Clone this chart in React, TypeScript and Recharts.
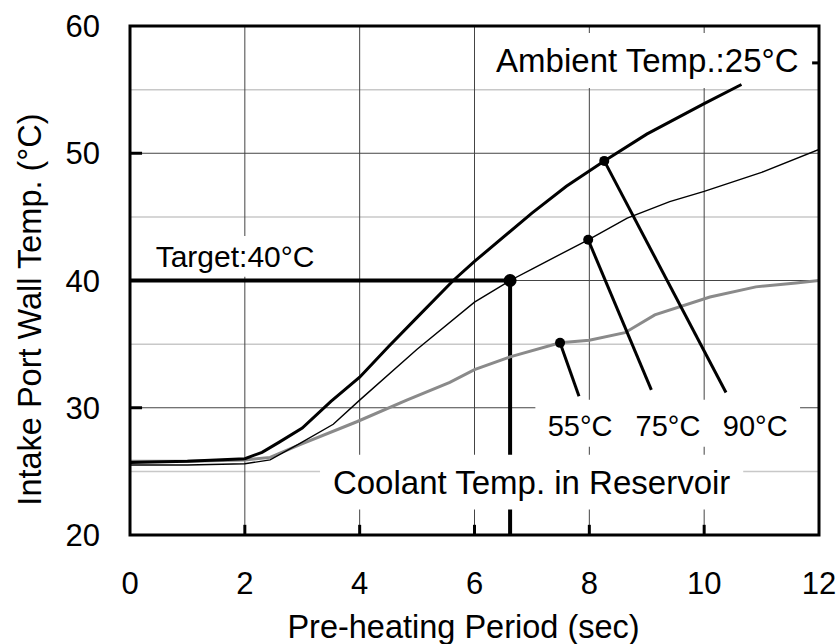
import { LineChart, Line, XAxis, YAxis, ReferenceLine, ReferenceArea, ReferenceDot } from 'recharts';

const FONT = '"Liberation Sans", Arial, Helvetica, sans-serif';

// wall temp (°C) vs pre-heating period (sec), one list per coolant temp
const coolant90 = [
  { t: 0, temp: 25.7 }, { t: 1, temp: 25.8 }, { t: 2, temp: 26.0 }, { t: 2.3, temp: 26.5 },
  { t: 2.6, temp: 27.3 }, { t: 3, temp: 28.4 }, { t: 3.5, temp: 30.5 }, { t: 4, temp: 32.4 },
  { t: 4.5, temp: 34.8 }, { t: 5, temp: 37.1 }, { t: 5.63, temp: 40.0 }, { t: 6, temp: 41.5 },
  { t: 7, temp: 45.3 }, { t: 7.6, temp: 47.4 }, { t: 8.26, temp: 49.4 }, { t: 9, temp: 51.5 },
  { t: 10, temp: 53.9 }, { t: 10.65, temp: 55.4 },
];

const coolant75 = [
  { t: 0, temp: 25.5 }, { t: 1, temp: 25.5 }, { t: 2, temp: 25.6 }, { t: 2.44, temp: 25.9 },
  { t: 2.96, temp: 27.2 }, { t: 3.54, temp: 28.7 }, { t: 4, temp: 30.6 }, { t: 5, temp: 34.6 },
  { t: 6, temp: 38.3 }, { t: 6.62, temp: 40.0 }, { t: 7, temp: 40.9 }, { t: 7.98, temp: 43.2 },
  { t: 8.66, temp: 44.9 }, { t: 9.4, temp: 46.2 }, { t: 10, temp: 47.0 }, { t: 11, temp: 48.5 },
  { t: 12, temp: 50.3 },
];

const coolant55 = [
  { t: 0, temp: 25.8 }, { t: 1, temp: 25.8 }, { t: 2, temp: 25.9 }, { t: 2.44, temp: 26.1 },
  { t: 2.96, temp: 27.1 }, { t: 3.95, temp: 28.9 }, { t: 4.82, temp: 30.6 }, { t: 5.57, temp: 32.0 },
  { t: 6, temp: 33.0 }, { t: 6.62, temp: 34.0 }, { t: 7.49, temp: 35.1 }, { t: 8, temp: 35.3 },
  { t: 8.62, temp: 35.9 }, { t: 9.14, temp: 37.3 }, { t: 10.1, temp: 38.7 }, { t: 10.9, temp: 39.5 },
  { t: 11.6, temp: 39.8 }, { t: 12, temp: 40.0 },
];

const xTicks = [0, 2, 4, 6, 8, 10, 12];
const yTicks = [20, 30, 40, 50, 60];
const gridX = [2, 4, 6, 8, 10];
const gridY = [30, 40, 50];
const gridYMinor = [25, 35, 45, 55];

const targetTemp = 40;
const targetTime = 6.62;

// callouts: dot on the curve, leader end, label
const callouts = [
  { label: '55°C', dot: { x: 7.49, y: 35.1 }, end: { x: 7.82, y: 30.9 }, textX: 7.84 },
  { label: '75°C', dot: { x: 7.98, y: 43.2 }, end: { x: 9.08, y: 31.4 }, textX: 9.37 },
  { label: '90°C', dot: { x: 8.26, y: 49.4 }, end: { x: 10.38, y: 31.2 }, textX: 10.89 },
];

const textStyle = { fill: '#000', fontSize: 30, fontFamily: FONT };

function YTitle({ viewBox }: any) {
  const cx = viewBox.x + 30;
  const cy = viewBox.y + viewBox.height / 2 + 29;
  return (
    <text x={cx} y={cy} transform={`rotate(-90 ${cx} ${cy})`} textAnchor="middle"
      dominantBaseline="central" fontSize={32.5} fontFamily={FONT} fill="#000">
      Intake Port Wall Temp. (°C)
    </text>
  );
}

function XTitle({ viewBox }: any) {
  const cx = viewBox.x + viewBox.width / 2 - 11;
  const cy = viewBox.y + 103;
  return (
    <text x={cx} y={cy} textAnchor="middle" fontSize={32.5} fontFamily={FONT} fill="#000">
      Pre-heating Period (sec)
    </text>
  );
}

export default function App() {
  return (
    <div style={{ position: 'absolute', left: 0, top: 0, background: '#fff' }}>
      <LineChart width={840} height={644} margin={{ top: 26, right: 21, bottom: 0, left: 0 }}
        style={{ fontFamily: FONT }}>
        <XAxis type="number" dataKey="t" domain={[0, 12]} ticks={xTicks} interval={0}
          axisLine={false} tickLine={false} tickSize={0} tickMargin={37} height={109}
          tick={{ ...textStyle, fontSize: 31 }} allowDataOverflow label={<XTitle />} />
        <YAxis type="number" domain={[20, 60]} ticks={yTicks} interval={0}
          axisLine={false} tickLine={false} tickSize={0} tickMargin={30} width={130}
          tick={{ ...textStyle, fontSize: 31 }} allowDataOverflow label={<YTitle />} />

        {gridYMinor.map(v => (
          <ReferenceLine key={`ym${v}`} y={v} stroke="#c8c8c8" strokeWidth={1.5} zIndex={10} />
        ))}
        {gridY.map(v => (
          <ReferenceLine key={`y${v}`} y={v} stroke="#444" strokeWidth={1} zIndex={11} />
        ))}
        {gridX.map(v => (
          <ReferenceLine key={`x${v}`} x={v} stroke="#444" strokeWidth={1} zIndex={11} />
        ))}
        {gridX.map(v => (
          <ReferenceLine key={`xt${v}`} segment={[{ x: v, y: 20 }, { x: v, y: 20.8 }]}
            stroke="#000" strokeWidth={3} zIndex={12} />
        ))}
        {gridY.map(v => (
          <ReferenceLine key={`yt${v}`} segment={[{ x: 0, y: v }, { x: 0.21, y: v }]}
            stroke="#000" strokeWidth={3} zIndex={12} />
        ))}
        <ReferenceLine segment={[{ x: 11.88, y: 57.1 }, { x: 12, y: 57.1 }]} stroke="#000" strokeWidth={3} zIndex={12} />

        {/* target 40°C reached */}
        <ReferenceLine segment={[{ x: 0, y: targetTemp }, { x: targetTime, y: targetTemp }]}
          stroke="#000" strokeWidth={4} zIndex={15} />
        <ReferenceLine segment={[{ x: targetTime, y: targetTemp }, { x: targetTime, y: 20 }]}
          stroke="#000" strokeWidth={4} zIndex={15} />

        {/* white label boxes over the grid */}
        <ReferenceArea x1={0.35} x2={3.31} y1={40.3} y2={43.5} fill="#fff" fillOpacity={1} stroke="none" zIndex={20}
          label={{ value: 'Target:40°C', position: 'center', ...textStyle, fontSize: 30 }} />
        <ReferenceArea x1={6.24} x2={11.78} y1={55.13} y2={59.45} fill="#fff" fillOpacity={1} stroke="none" zIndex={20}
          label={{ value: 'Ambient Temp.:25°C', position: 'center', ...textStyle, fontSize: 33 }} />
        <ReferenceArea x1={3.31} x2={10.68} y1={22.0} y2={26.3} fill="#fff" fillOpacity={1} stroke="none" zIndex={20}
          label={{ value: 'Coolant Temp. in Reservoir', position: 'center', ...textStyle, fontSize: 33 }} />
        <ReferenceArea x1={7.06} x2={11.67} y1={26.93} y2={30.62} fill="#fff" fillOpacity={1} stroke="none" zIndex={20} />
        {callouts.map(c => (
          <ReferenceDot key={`lb${c.label}`} x={c.textX} y={28.6} r={0} fill="none" stroke="none" zIndex={21}
            label={{ value: c.label, position: 'center', ...textStyle, fontSize: 29 }} />
        ))}

        <Line data={coolant55} dataKey="temp" type="linear" stroke="#8a8a8a" strokeWidth={3}
          dot={false} isAnimationActive={false} />
        <Line data={coolant75} dataKey="temp" type="linear" stroke="#000" strokeWidth={1.4}
          dot={false} isAnimationActive={false} />
        <Line data={coolant90} dataKey="temp" type="linear" stroke="#000" strokeWidth={3}
          dot={false} isAnimationActive={false} />

        {callouts.map(c => (
          <ReferenceLine key={`ld${c.label}`} segment={[c.dot, c.end]} stroke="#000" strokeWidth={3} zIndex={450} />
        ))}
        {callouts.map(c => (
          <ReferenceDot key={`d${c.label}`} x={c.dot.x} y={c.dot.y} r={5} fill="#000" stroke="none" zIndex={500} />
        ))}
        <ReferenceDot x={targetTime} y={targetTemp} r={6.5} fill="#000" stroke="none" zIndex={500} />

        {/* plot frame */}
        <ReferenceArea x1={0} x2={12} y1={20} y2={60} fill="none" stroke="#000" strokeWidth={3} zIndex={550} />
      </LineChart>
    </div>
  );
}
